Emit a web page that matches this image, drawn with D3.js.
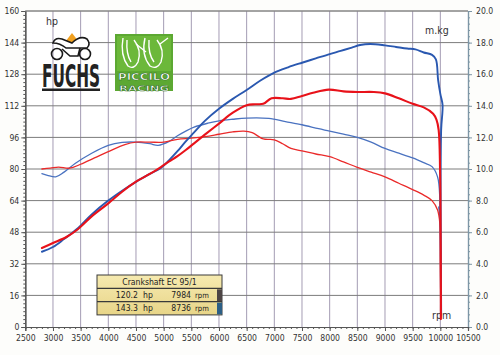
<!DOCTYPE html>
<html><head><meta charset="utf-8">
<script src="https://cdn.jsdelivr.net/npm/d3@7"></script>
<style>
html,body{margin:0;padding:0;background:#fdfdfb;}
svg{display:block;}
</style></head>
<body>
<svg id="c" width="500" height="355"></svg>
<script>
// ---------- DATA ----------
const rpmTicks = d3.range(2500, 10501, 500);
const hpTicks = d3.range(0, 161, 16);
const mkgTicks = d3.range(0, 20.01, 2);

// Blue run (143.3 hp @ 8736 rpm) - power [rpm, hp]
const bluePower = [[2800,38.1],[3000,40.5],[3200,44.5],[3450,50],[3700,57],[4000,64],[4250,69],[4500,73.5],[4750,77.5],[4950,80.5],[5100,84.5],[5250,89],[5400,94],[5550,98.5],[5750,104.5],[6000,110.5],[6250,115.5],[6500,120],[6750,124.8],[7000,128.8],[7250,131.5],[7500,133.8],[7750,136],[8000,138.2],[8200,139.8],[8400,141.5],[8550,142.8],[8736,143.3],[9000,142.6],[9200,141.8],[9400,141],[9550,140.6],[9700,139],[9850,137.8],[9920,135.5],[9960,125],[10000,118],[10040,112.5],[10015,100],[10005,70],[10010,40],[10015,6]];
// Red run (120.2 hp @ 7984 rpm) - power [rpm, hp]
const redPower = [[2800,40],[3000,42.5],[3250,45.7],[3450,49.5],[3700,56],[4000,62.6],[4250,68.5],[4500,73.6],[4750,77.5],[4950,81],[5100,83.8],[5250,86.5],[5400,89.6],[5550,93],[5750,97.5],[6000,103],[6250,108.5],[6500,112.3],[6650,112.8],[6800,113],[6950,115.8],[7150,115.8],[7300,115.5],[7500,117],[7700,118.6],[7984,120.2],[8250,119.3],[8500,119],[8800,119],[9000,118.3],[9250,115.8],[9500,113],[9700,111.2],[9870,108],[9930,105],[9970,99.7],[9995,80],[10005,50],[10010,20],[10010,4]];
// Blue run - torque [rpm, m.kg]
const blueTorque = [[2800,9.7],[2900,9.6],[3050,9.5],[3200,9.8],[3400,10.35],[3700,11.0],[4000,11.5],[4250,11.68],[4500,11.7],[4750,11.6],[4900,11.5],[5100,11.75],[5250,12.1],[5400,12.4],[5550,12.65],[5800,12.9],[6000,13.05],[6250,13.15],[6500,13.22],[6900,13.2],[7200,13.0],[7500,12.8],[7800,12.55],[8000,12.4],[8250,12.2],[8500,12.0],[8750,11.7],[9000,11.3],[9250,11.0],[9500,10.7],[9700,10.4],[9850,10.15],[9950,9.5],[9990,8.2],[9985,7.2],[9970,7.6],[9990,7.0],[10000,5.0],[10005,2.5],[10010,1.8]];
// Red run - torque [rpm, m.kg]
const redTorque = [[2800,10.0],[2950,10.05],[3100,10.12],[3300,10.05],[3500,10.3],[3750,10.7],[4000,11.1],[4300,11.55],[4500,11.7],[4750,11.7],[5000,11.7],[5250,11.88],[5500,11.95],[5750,12.05],[6000,12.2],[6250,12.35],[6450,12.4],[6600,12.3],[6800,11.9],[7000,11.85],[7150,11.6],[7300,11.3],[7500,11.15],[7750,10.95],[8000,10.78],[8250,10.45],[8500,10.1],[8750,9.8],[9000,9.5],[9250,9.1],[9500,8.7],[9700,8.35],[9850,8.0],[9950,7.4],[9990,6.6],[10000,4.0],[10005,1.5],[10005,1.0]];

const boxTitle = "Crankshaft EC 95/1";
const boxRows = [
  {hp:"120.2", rpm:"7984", swatch:"#4d4545"},
  {hp:"143.3", rpm:"8736", swatch:"#2c5f86"}
];

// ---------- SCALES ----------
const svg = d3.select("#c");
const L = 25.3, R = 468, T = 11, B = 327;
const x = d3.scaleLinear().domain([2500, 10500]).range([L, R]);
const yHp = d3.scaleLinear().domain([0, 160]).range([B, T]);
const yMkg = d3.scaleLinear().domain([0, 20]).range([B, T]);
const FONT = "'DejaVu Sans Condensed','DejaVu Sans',sans-serif";

// plot background
svg.append("rect").attr("x", L).attr("y", T).attr("width", R - L).attr("height", B - T).attr("fill", "#ffffff");

// gridlines
const grid = svg.append("g");
grid.selectAll("line.v").data(rpmTicks.slice(1, -1)).join("line")
  .attr("x1", d => x(d)).attr("x2", d => x(d)).attr("y1", T).attr("y2", B)
  .attr("stroke", "#a49cb4").attr("stroke-width", 1);
grid.selectAll("line.h").data(hpTicks.slice(1)).join("line")
  .attr("x1", L).attr("x2", R).attr("y1", d => yHp(d)).attr("y2", d => yHp(d))
  .attr("stroke", "#7c7c7c").attr("stroke-width", 1);

// axes
function styleAxis(g, col) {
  g.select(".domain").attr("stroke", col).attr("stroke-width", 1.2);
  g.selectAll(".tick line").attr("stroke", col);
  g.selectAll("text").attr("font-family", FONT).attr("font-size", 8.6).attr("fill", "#333");
}
// minor ticks
svg.append("g").attr("transform", `translate(${L},0)`)
  .call(d3.axisLeft(yHp).tickValues(d3.range(0, 161, 2)).tickSize(2).tickFormat(""))
  .call(g => styleAxis(g, "#555"));
svg.append("g").attr("transform", `translate(${L},0)`)
  .call(d3.axisLeft(yHp).tickValues(hpTicks).tickSize(4).tickPadding(2).tickFormat(d3.format("d")))
  .call(g => styleAxis(g, "#555"));

svg.append("g").attr("transform", `translate(${R},0)`)
  .call(d3.axisRight(yMkg).tickValues(d3.range(0, 20.01, 0.4)).tickSize(2).tickFormat(""))
  .call(g => styleAxis(g, "#7d96a6"));
svg.append("g").attr("transform", `translate(${R},0)`)
  .call(d3.axisRight(yMkg).tickValues(mkgTicks).tickSize(4).tickPadding(4).tickFormat(d3.format(".1f")))
  .call(g => styleAxis(g, "#7d96a6"));

svg.append("g").attr("transform", `translate(0,${B})`)
  .call(d3.axisBottom(x).tickValues(d3.range(2500, 10501, 100)).tickSize(2).tickFormat(""))
  .call(g => styleAxis(g, "#555"));
svg.append("g").attr("transform", `translate(0,${B})`)
  .call(d3.axisBottom(x).tickValues(rpmTicks).tickSize(4).tickPadding(4).tickFormat(d3.format("d")))
  .call(g => styleAxis(g, "#555"));

// top border line
svg.append("line").attr("x1", L).attr("x2", R).attr("y1", T).attr("y2", T).attr("stroke", "#8a8a8a");

// axis titles
svg.append("text").attr("x", 46).attr("y", 25).text("hp")
  .attr("font-family", FONT).attr("font-size", 10.5).attr("fill", "#333");
svg.append("text").attr("x", 425).attr("y", 34).text("m.kg")
  .attr("font-family", FONT).attr("font-size", 10.5).attr("fill", "#333");
svg.append("text").attr("x", 432).attr("y", 319).text("rpm")
  .attr("font-family", FONT).attr("font-size", 10.5).attr("fill", "#333");

// ---------- CURVES ----------
const lineHp = d3.line().x(d => x(d[0])).y(d => yHp(d[1])).curve(d3.curveCatmullRom.alpha(0.5));
const lineMkg = d3.line().x(d => x(d[0])).y(d => yMkg(d[1])).curve(d3.curveCatmullRom.alpha(0.5));
const curves = svg.append("g").attr("fill", "none").attr("stroke-linejoin", "round").attr("stroke-linecap", "round");
curves.append("path").attr("d", lineMkg(blueTorque)).attr("stroke", "#4a72c0").attr("stroke-width", 1.3);
curves.append("path").attr("d", lineMkg(redTorque)).attr("stroke", "#ea2a2a").attr("stroke-width", 1.3);
curves.append("path").attr("d", lineHp(bluePower)).attr("stroke", "#2a58b0").attr("stroke-width", 1.9);
curves.append("path").attr("d", lineHp(redPower)).attr("stroke", "#e8121a").attr("stroke-width", 2.1);

// ---------- LOGOS ----------
const logo = svg.append("g");
// FUCHS motorcycle
logo.append("path").attr("d", "M62,46 L72,33 L82,46 Z").attr("fill", "#f0a020");
const moto = logo.append("g").attr("fill", "none").attr("stroke", "#1a1a1a").attr("stroke-width", 1.6);
moto.append("circle").attr("cx", 57).attr("cy", 54).attr("r", 5.5);
moto.append("circle").attr("cx", 85).attr("cy", 54).attr("r", 5.5);
moto.append("path").attr("d", "M53,43 Q55,37 62,39 L72,43 Q80,35 87,39 Q91,44 87,48 L66,48 Q60,43 53,43 Z").attr("fill", "#fff");
moto.append("path").attr("d", "M62,49 L70,56 L78,56 L80,48");
logo.append("g").attr("transform", "translate(42,87) scale(1,1.85)")
  .append("text").attr("x", 0).attr("y", 0).text("FUCHS")
  .attr("font-family", "'DejaVu Sans Condensed','DejaVu Sans',sans-serif").attr("font-weight", "bold")
  .attr("font-size", 17).attr("textLength", 58).attr("lengthAdjust", "spacingAndGlyphs").attr("fill", "#222");
logo.append("rect").attr("x", 42).attr("y", 88.5).attr("width", 58).attr("height", 2.5).attr("fill", "#222");

// PICCILO RACING
logo.append("rect").attr("x", 115).attr("y", 34).attr("width", 58).attr("height", 57).attr("fill", "#5ca832");
logo.append("rect").attr("x", 117).attr("y", 36).attr("width", 54).attr("height", 35).attr("fill", "#6cb83a");
const pl = logo.append("g").attr("fill", "none").attr("stroke", "#ffffff").attr("stroke-width", 1.4);
pl.append("path").attr("d", "M123,38 Q120,55 128,66 Q134,70 138,62 Q142,50 134,40");
pl.append("path").attr("d", "M127,40 Q126,54 131,62");
pl.append("path").attr("d", "M145,38 Q141,55 150,66 Q157,70 161,62 Q165,50 157,40");
pl.append("path").attr("d", "M149,40 Q148,54 154,62");
pl.append("path").attr("d", "M136,44 L146,52 M160,44 L168,38");
const pt = logo.append("text").attr("text-anchor", "middle")
  .attr("font-family", "'DejaVu Sans Condensed','DejaVu Sans',sans-serif").attr("font-weight", "bold")
  .attr("fill", "#fff").attr("stroke", "#2e6e1e").attr("stroke-width", 0.45);
pt.append("tspan").attr("x", 144).attr("y", 80).attr("font-size", 9).text("PICCILO")
  .attr("textLength", 52).attr("lengthAdjust", "spacingAndGlyphs");
pt.append("tspan").attr("x", 144).attr("y", 90.6).attr("font-size", 7.5).text("RACING")
  .attr("textLength", 50).attr("lengthAdjust", "spacingAndGlyphs");

// ---------- INFO BOX ----------
const defs = svg.append("defs");
const gr = defs.append("linearGradient").attr("id", "yel").attr("x1", 0).attr("x2", 0).attr("y1", 0).attr("y2", 1);
gr.append("stop").attr("offset", "0%").attr("stop-color", "#f6eab0");
gr.append("stop").attr("offset", "100%").attr("stop-color", "#e8d588");
const bx = 97, by = 275, bw = 125, rh = 13.3;
const box = svg.append("g");
box.append("rect").attr("x", bx).attr("y", by).attr("width", bw).attr("height", rh * 3).attr("fill", "url(#yel)")
  .attr("stroke", "#3a3a3a").attr("stroke-width", 1);
box.append("text").attr("x", bx + bw / 2).attr("y", by + 9.5).attr("text-anchor", "middle").text(boxTitle)
  .attr("font-family", FONT).attr("font-size", 8.6).attr("fill", "#222");
boxRows.forEach((r, i) => {
  const yy = by + rh * (i + 1);
  box.append("line").attr("x1", bx).attr("x2", bx + bw).attr("y1", yy).attr("y2", yy).attr("stroke", "#3a3a3a").attr("stroke-width", 1.2);
  box.append("rect").attr("x", bx + bw - 5).attr("y", yy + 1).attr("width", 5).attr("height", rh - 1.5).attr("fill", r.swatch);
  const g = box.append("g").attr("font-family", FONT).attr("font-size", 8.6).attr("fill", "#222");
  g.append("text").attr("x", bx + 41).attr("y", yy + 9.7).attr("text-anchor", "end").text(r.hp);
  g.append("text").attr("x", bx + 46).attr("y", yy + 9.7).text("hp");
  g.append("text").attr("x", bx + 94).attr("y", yy + 9.7).attr("text-anchor", "end").text(r.rpm);
  g.append("text").attr("x", bx + 98).attr("y", yy + 9.7).attr("font-size", 7.6).text("rpm");
});
</script>
</body></html>
